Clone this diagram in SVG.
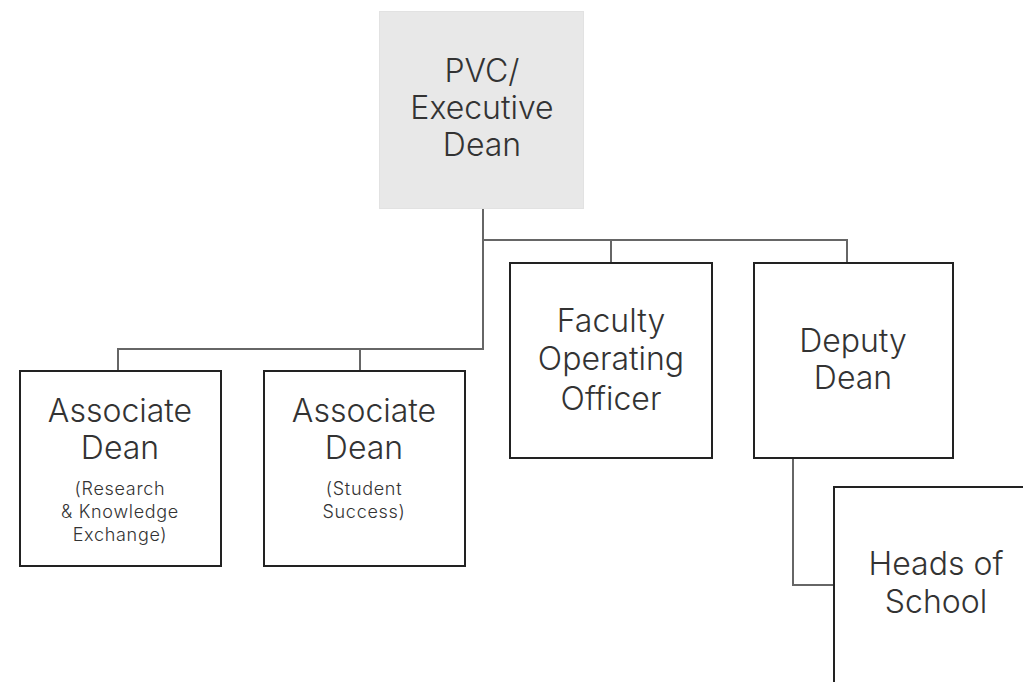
<svg xmlns="http://www.w3.org/2000/svg" width="1023" height="682" viewBox="0 0 1023 682">
<style>
.box{fill:#fff;stroke:#222;stroke-width:2}
.top{fill:#e8e8e8;stroke:#e2e2e2;stroke-width:1}
.t{font-family:Inter,"Open Sans","Liberation Sans",sans-serif;font-weight:300;font-size:32px;fill:#333;text-anchor:middle}
.s{font-family:Inter,"Open Sans","Liberation Sans",sans-serif;font-weight:300;font-size:18px;letter-spacing:0.7px;fill:#333;text-anchor:middle}
.c{fill:none;stroke:#666;stroke-width:2}
</style>
<rect width="1023" height="682" fill="#fff"/>
<g id="connectors">
<path class="c" d="M483,209 V349 H118 V371"/>
<path class="c" d="M360,349 V371"/>
<path class="c" d="M483,240 H847 V263"/>
<path class="c" d="M611,240 V263"/>
<path class="c" d="M793,458 V585 H834"/>
</g>
<g id="pvc">
<rect class="top" x="379.5" y="11.5" width="204" height="197"/>
<text class="t" x="482" y="82">PVC/</text>
<text class="t" x="482" y="119">Executive</text>
<text class="t" x="482" y="156">Dean</text>
</g>
<g id="ad-research">
<rect class="box" x="20" y="371" width="201" height="195"/>
<text class="t" x="120" y="422">Associate</text>
<text class="t" x="120" y="459">Dean</text>
<text class="s" x="120" y="495">(Research</text>
<text class="s" x="120" y="518">&amp; Knowledge</text>
<text class="s" x="120" y="541">Exchange)</text>
</g>
<g id="ad-student">
<rect class="box" x="264" y="371" width="201" height="195"/>
<text class="t" x="364" y="422">Associate</text>
<text class="t" x="364" y="459">Dean</text>
<text class="s" x="364" y="495">(Student</text>
<text class="s" x="364" y="518">Success)</text>
</g>
<g id="foo">
<rect class="box" x="510" y="263" width="202" height="195"/>
<text class="t" x="611" y="332">Faculty</text>
<text class="t" x="611" y="370">Operating</text>
<text class="t" x="611" y="410">Officer</text>
</g>
<g id="deputy">
<rect class="box" x="754" y="263" width="199" height="195"/>
<text class="t" x="853" y="352">Deputy</text>
<text class="t" x="853" y="389">Dean</text>
</g>
<g id="heads">
<rect class="box" x="834" y="487" width="220" height="220"/>
<text class="t" x="936" y="575">Heads of</text>
<text class="t" x="936" y="613">School</text>
</g>
</svg>
